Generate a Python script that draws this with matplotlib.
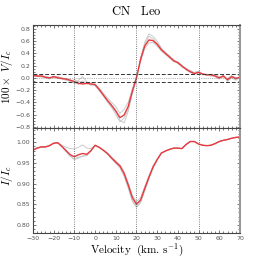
import matplotlib
matplotlib.use("Agg")
import matplotlib.pyplot as plt
from matplotlib.ticker import MultipleLocator

plt.rcParams['font.family'] = ['DejaVu Serif']
plt.rcParams['mathtext.fontset'] = 'cm'

# Grille de vitesses (km/s)
vitesse = [-30, -28, -26, -24, -22, -20, -18, -16, -14, -12, -10, -8, -6, -4, -2,
           0, 2, 4, 6, 8, 10, 12, 14, 16, 18, 20, 22, 24, 26, 28, 30, 32, 34, 36,
           38, 40, 42, 44, 46, 48, 50, 52, 54, 56, 58, 60, 62, 64, 66, 68, 70]

# Stokes V moyen (rouge)
v_moyen = [0.04, 0.03, 0.03, 0.01, 0.00, 0.02, 0.00, -0.01, -0.02, -0.04, -0.06, -0.09,
           -0.10, -0.09, -0.10, -0.11, -0.19, -0.28, -0.37, -0.45, -0.54, -0.65, -0.61,
           -0.47, -0.22, 0.00, 0.30, 0.52, 0.62, 0.61, 0.55, 0.46, 0.40, 0.34, 0.28, 0.25,
           0.19, 0.14, 0.10, 0.07, 0.09, 0.06, 0.05, 0.05, 0.03, 0.00, 0.03, -0.03, 0.02,
           -0.01, 0.01]

# Stokes V individuels (gris)
v_gris_1 = [0.05, 0.02, 0.04, 0.00, -0.02, 0.03, -0.01, -0.02, -0.01, -0.05, -0.03, -0.06,
            -0.07, -0.10, -0.08, -0.12, -0.20, -0.30, -0.40, -0.49, -0.60, -0.72, -0.66,
            -0.52, -0.25, -0.02, 0.33, 0.58, 0.72, 0.68, 0.60, 0.49, 0.42, 0.35, 0.30,
            0.24, 0.18, 0.15, 0.11, 0.08, 0.10, 0.05, 0.06, 0.04, 0.02, -0.02, 0.04,
            -0.06, 0.00, -0.04, 0.02]
v_gris_2 = [0.03, 0.04, 0.01, 0.02, 0.01, 0.00, 0.03, -0.02, -0.04, -0.02, -0.10, -0.04,
            0.02, -0.06, -0.12, -0.10, -0.17, -0.25, -0.33, -0.40, -0.47, -0.58, -0.52,
            -0.40, -0.18, 0.03, 0.27, 0.48, 0.57, 0.58, 0.52, 0.44, 0.38, 0.33, 0.26,
            0.26, 0.21, 0.13, 0.09, 0.06, 0.08, 0.07, 0.04, 0.06, 0.05, 0.02, 0.01,
            -0.01, 0.04, -0.03, 0.00]
v_gris_3 = [0.02, 0.03, 0.05, 0.02, -0.01, 0.01, 0.01, 0.00, -0.03, -0.06, -0.07, -0.11,
            -0.05, -0.08, -0.11, -0.13, -0.21, -0.29, -0.38, -0.47, -0.56, -0.69, -0.74,
            -0.55, -0.26, -0.01, 0.32, 0.55, 0.68, 0.64, 0.57, 0.48, 0.41, 0.36, 0.29,
            0.23, 0.20, 0.16, 0.12, 0.09, 0.11, 0.07, 0.05, 0.03, 0.04, -0.01, 0.05,
            -0.05, 0.03, 0.01, -0.01]

# Stokes I moyen (rouge)
i_moyen = [0.981, 0.986, 0.989, 0.989, 0.992, 0.998, 0.999, 0.990, 0.980, 0.970, 0.965,
           0.970, 0.973, 0.971, 0.980, 0.993, 0.988, 0.981, 0.973, 0.962, 0.952, 0.943,
           0.925, 0.897, 0.866, 0.850, 0.860, 0.888, 0.915, 0.940, 0.958, 0.974, 0.979,
           0.983, 0.986, 0.986, 0.985, 0.995, 1.002, 1.002, 0.996, 0.993, 0.992, 0.993,
           0.997, 1.002, 1.005, 1.007, 1.010, 1.012, 1.013]

# Stokes I individuels (gris)
i_gris_1 = [0.981, 0.987, 0.990, 0.989, 0.993, 0.998, 0.999, 0.993, 0.988, 0.985, 0.984,
            0.988, 0.994, 0.986, 0.985, 0.992, 0.988, 0.980, 0.972, 0.961, 0.950, 0.940,
            0.921, 0.892, 0.860, 0.845, 0.856, 0.884, 0.913, 0.939, 0.958, 0.974, 0.979,
            0.983, 0.986, 0.986, 0.985, 0.995, 1.002, 1.002, 0.996, 0.993, 0.992, 0.993,
            0.997, 1.002, 1.005, 1.007, 1.010, 1.012, 1.013]
i_gris_2 = [0.981, 0.986, 0.988, 0.988, 0.992, 0.998, 0.999, 0.989, 0.977, 0.966, 0.960,
            0.964, 0.967, 0.968, 0.979, 0.993, 0.988, 0.981, 0.974, 0.964, 0.955, 0.946,
            0.929, 0.902, 0.872, 0.856, 0.866, 0.893, 0.919, 0.943, 0.960, 0.974, 0.979,
            0.983, 0.986, 0.986, 0.985, 0.995, 1.002, 1.002, 0.996, 0.993, 0.992, 0.993,
            0.997, 1.002, 1.005, 1.007, 1.010, 1.012, 1.013]
i_gris_3 = [0.981, 0.986, 0.989, 0.989, 0.992, 0.998, 0.999, 0.990, 0.978, 0.967, 0.958,
            0.962, 0.966, 0.968, 0.978, 0.992, 0.987, 0.980, 0.971, 0.960, 0.949, 0.938,
            0.918, 0.889, 0.857, 0.842, 0.853, 0.882, 0.911, 0.937, 0.957, 0.973, 0.979,
            0.983, 0.986, 0.986, 0.985, 0.995, 1.002, 1.002, 0.996, 0.993, 0.992, 0.993,
            0.997, 1.002, 1.005, 1.007, 1.010, 1.012, 1.013]

lignes_verticales = [-10, 20, 50]
seuil_bruit = 0.06

fig = plt.figure(figsize=(2.66, 2.66), dpi=100)
ax1 = fig.add_axes([0.124, 0.519, 0.778, 0.387])
ax2 = fig.add_axes([0.124, 0.124, 0.778, 0.395])

gris = '#c4c4c4'
rouge = '#e8383d'

# Panneau du haut : Stokes V
for serie in [v_gris_1, v_gris_2, v_gris_3]:
    ax1.plot(vitesse, serie, color=gris, lw=0.6)
ax1.plot(vitesse, v_moyen, color=rouge, lw=1.0)
ax1.axhline(seuil_bruit, color='#333333', ls='--', lw=0.7, dashes=(4, 2))
ax1.axhline(-seuil_bruit, color='#333333', ls='--', lw=0.7, dashes=(4, 2))
ax1.axhline(0, color='#777777', ls=':', lw=0.5)
ax1.set_ylim(-0.82, 0.865)
ax1.set_ylabel(r'$100\times\ V/I_c$', fontsize=8)
ax1.yaxis.set_label_coords(-0.087, 0.5)
ax1.yaxis.set_major_locator(MultipleLocator(0.2))
ax1.yaxis.set_minor_locator(MultipleLocator(0.05))
ax1.tick_params(labelbottom=False)

# Panneau du bas : Stokes I
for serie in [i_gris_1, i_gris_2, i_gris_3]:
    ax2.plot(vitesse, serie, color=gris, lw=0.6)
ax2.plot(vitesse, i_moyen, color=rouge, lw=1.0)
ax2.set_ylim(0.78, 1.035)
ax2.set_ylabel(r'$I/I_c$', fontsize=8)
ax2.yaxis.set_label_coords(-0.087, 0.55)
ax2.set_xlabel(r'$\mathrm{Velocity\ \ (km.\,s^{-1})}$', fontsize=8, labelpad=1)
ax2.yaxis.set_major_locator(MultipleLocator(0.05))
ax2.yaxis.set_minor_locator(MultipleLocator(0.01))
ax2.yaxis.set_major_formatter(plt.FormatStrFormatter('%.2f'))

for ax in [ax1, ax2]:
    for x in lignes_verticales:
        ax.axvline(x, color='#555555', ls=':', lw=0.6)
    ax.set_xlim(-30, 70)
    ax.xaxis.set_major_locator(MultipleLocator(10))
    ax.xaxis.set_minor_locator(MultipleLocator(2))
    ax.tick_params(which='both', direction='in', top=True, right=True,
                   labelsize=4.5, colors='#444444', labelcolor='#555555', width=0.5, pad=2)
    ax.tick_params(which='major', length=2.5)
    ax.tick_params(which='minor', length=1.2)
    for lab in ax.get_xticklabels() + ax.get_yticklabels():
        lab.set_family('DejaVu Sans')
    for s in ax.spines.values():
        s.set_color('#444444')
        s.set_linewidth(0.8)
    ax.spines['right'].set_color('#999999')
    ax.spines['right'].set_linewidth(1.5)

fig.text(0.513, 0.958, r'$\mathrm{CN\ \ \ Leo}$', ha='center', va='center', fontsize=9)

fig.savefig('out.png', dpi=100)
